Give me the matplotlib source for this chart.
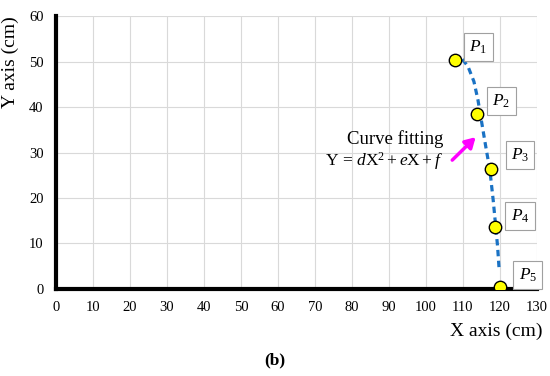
import matplotlib
matplotlib.use('Agg')
import matplotlib.pyplot as plt

plt.rcParams['font.family'] = 'Liberation Serif'
plt.rcParams['mathtext.fontset'] = 'custom'
plt.rcParams['mathtext.rm'] = 'Liberation Serif'
plt.rcParams['mathtext.it'] = 'Liberation Serif:italic'

# measured points
point_x = [108, 113.7, 117.6, 118.7, 120]
point_y = [50.3, 38.5, 26.4, 13.6, 0.4]
point_names = ['P1', 'P2', 'P3', 'P4', 'P5']

# fitted curve
curve_x = [109.9, 111.4, 113.0, 114.1, 115.0, 116.2, 117.3, 118.2, 118.9, 119.4, 119.8]
curve_y = [50.5, 48.9, 45.6, 41.5, 37.1, 31.3, 26.2, 19.6, 13.7, 9.3, 4.5]

label_offsets = [(23, 13), (25, 13), (29, 14), (25, 11), (28, 12)]

fig = plt.figure(figsize=(5.5, 3.76), dpi=100)
ax = fig.add_axes([0.1018, 0.2314, 0.8742, 0.726])

ax.plot(curve_x, curve_y, color='#1a72c4', lw=2.3, ls=(0, (2.0, 1.4)), zorder=3)
ax.scatter(point_x, point_y, s=80, color='#ffff00', edgecolor='black', lw=1, zorder=4)

for x, y, name, off in zip(point_x, point_y, point_names, label_offsets):
    ax.annotate(r'$%s_%s$' % (name[0], name[1]), (x, y), xytext=off,
                textcoords='offset pixels', ha='center', va='center', fontsize=12.5,
                bbox=dict(boxstyle='square,pad=0.3', fc='white', ec='#a0a0a0', lw=0.8),
                zorder=5)

ax.annotate('', xy=(114.0, 33.8), xytext=(106.6, 27.9),
            arrowprops=dict(arrowstyle='-|>,head_width=0.35,head_length=0.6',
                            color='#ff00ff', lw=2.5), zorder=5)
ax.text(104.8, 32.9, 'Curve fitting', fontsize=13.5, ha='right', va='center')
ax.text(104.6, 28.2, r'$\mathrm{Y}\,=\,d\mathrm{X}^2 + e\mathrm{X} + f$', fontsize=12.5,
        ha='right', va='center')

ax.set_xlim(0, 130)
ax.set_ylim(0, 60)
ax.set_xticks(range(0, 131, 10))
ax.set_yticks(range(0, 61, 10))
ax.grid(True, color='#d9d9d9', lw=0.8)
ax.set_axisbelow(True)
for s in ['top', 'right']:
    ax.spines[s].set_visible(False)
for s in ['left', 'bottom']:
    ax.spines[s].set_linewidth(3)
ax.tick_params(length=0, labelsize=10.5, pad=9)

fig.text(10 / 550, 1 - 62 / 376, 'Y axis (cm)', rotation=90, ha='center', va='center', fontsize=14)
fig.text(542 / 550, 1 - 331 / 376, 'X axis (cm)', ha='right', va='center', fontsize=14)
fig.text(275 / 550, 1 - 360 / 376, '(b)', ha='center', va='center', fontsize=12.5, fontweight='bold')

fig.savefig('out.png', dpi=100)
